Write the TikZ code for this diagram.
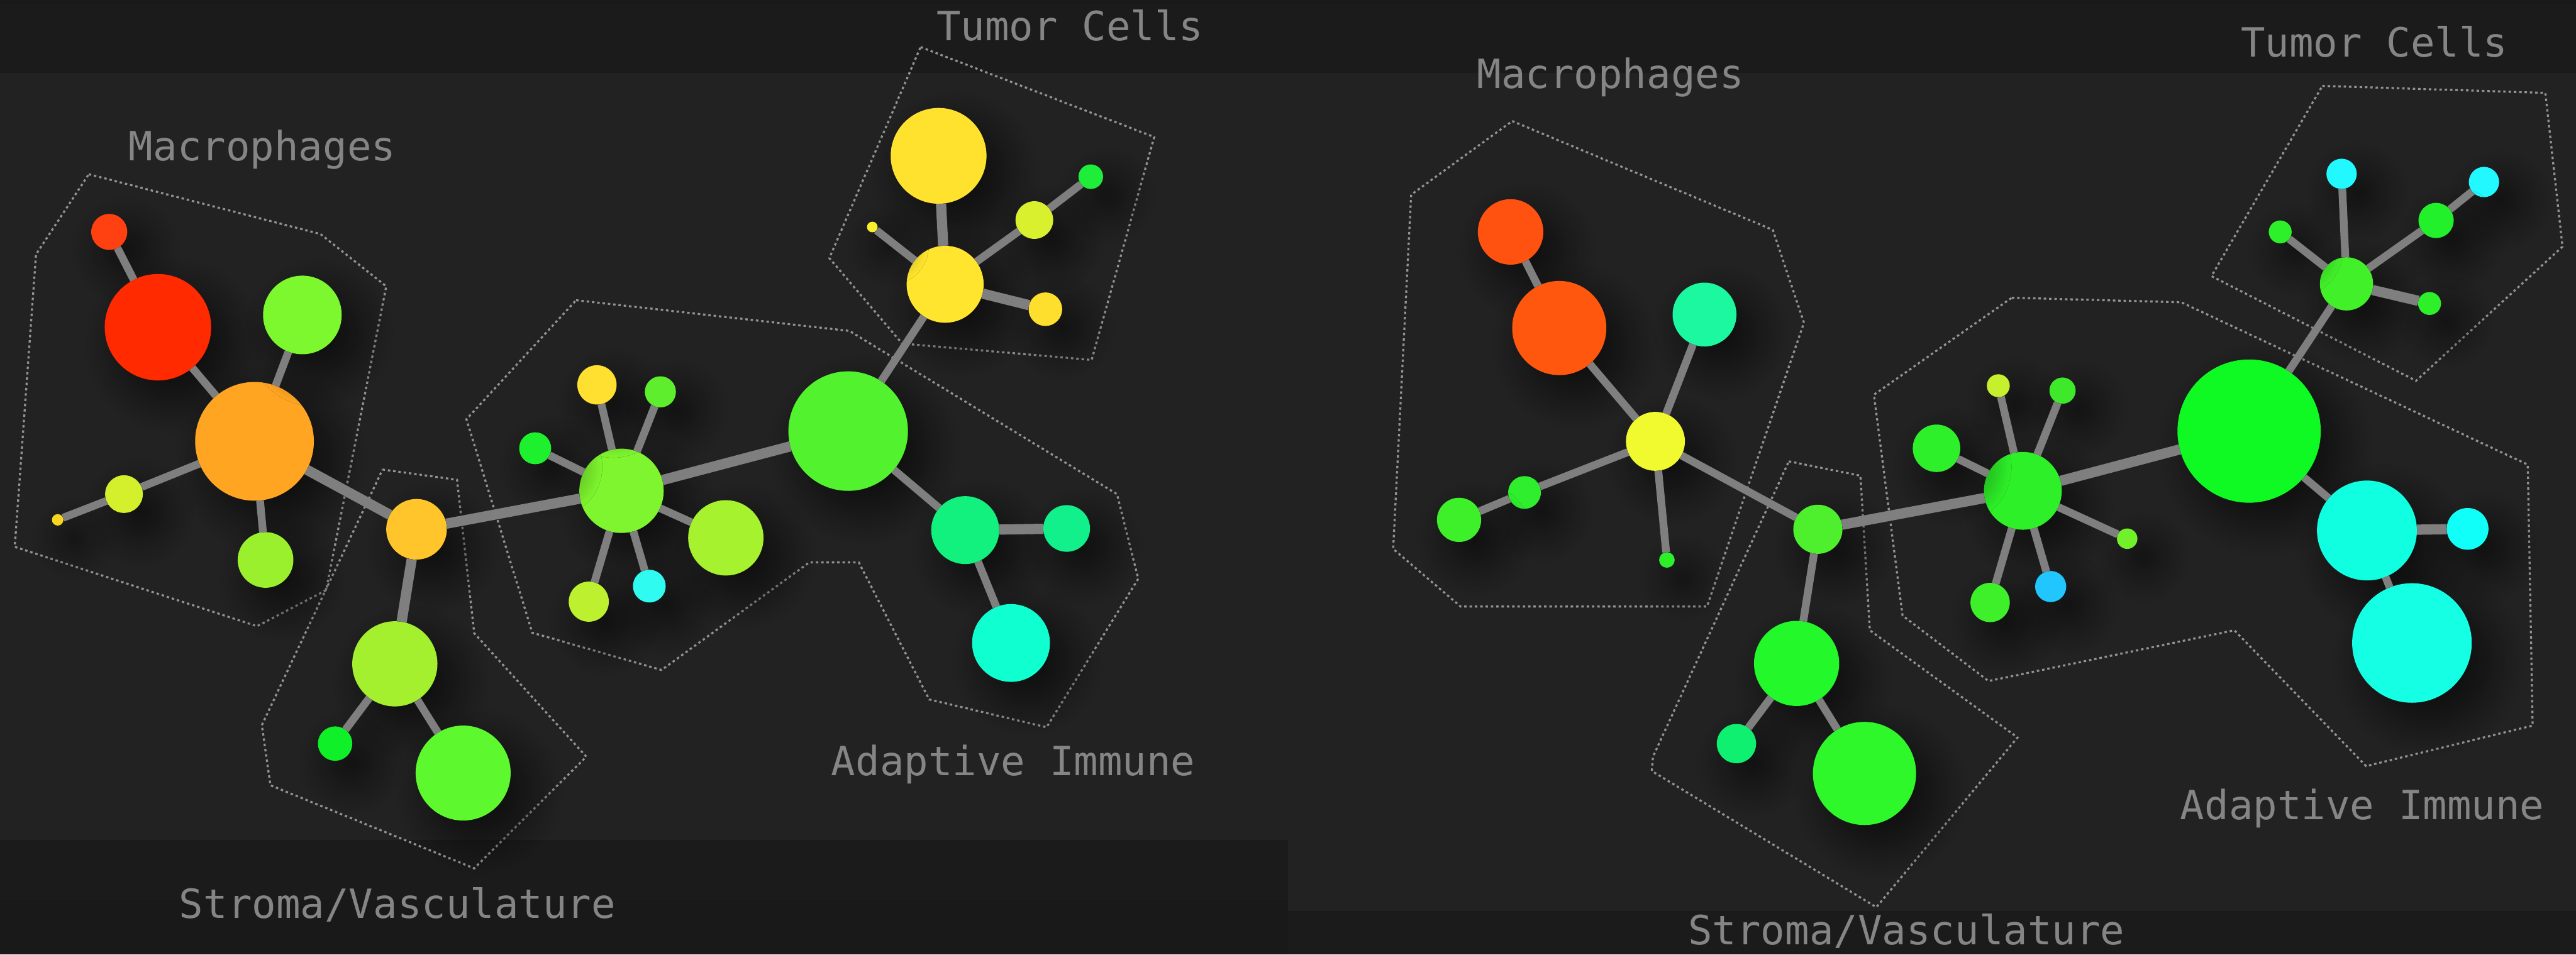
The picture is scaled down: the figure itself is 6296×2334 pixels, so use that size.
\documentclass[tikz,border=0pt]{standalone}
\usepackage{fontspec}
\setmonofont{DejaVu Sans Mono}
\usetikzlibrary{shadows.blur}
\definecolor{bgmid}{HTML}{222222}
\definecolor{bgband}{HTML}{1B1B1B}
\definecolor{bgdeep}{HTML}{191919}
\definecolor{edgegray}{HTML}{7F7F7F}
\definecolor{hullgray}{HTML}{939393}
\definecolor{labelgray}{HTML}{858585}
\tikzset{
  cellnode/.style={circle, draw=none, inner sep=0pt, outer sep=0pt,
    blur shadow={shadow xshift=0.4cm, shadow yshift=-0.45cm, shadow blur radius=0.85cm, shadow blur steps=14, shadow opacity=60}},
  edge/.style={draw=edgegray, line width=0.19cm, line cap=butt},
  thick edge/.style={draw=edgegray, line width=0.25cm, line cap=butt},
  hull/.style={draw=hullgray, line width=0.05cm, dash pattern=on 0.06cm off 0.07cm, line cap=butt, line join=miter},
  grouplabel/.style={anchor=base west, inner sep=0pt, outer sep=0pt, text=labelgray,
    font=\ttfamily\fontsize{28}{30}\selectfont}
}
\newcommand{\cell}[5]{%
  \definecolor{col#1}{HTML}{#5}%
  \node[cellnode, fill=col#1, minimum size=#4*0.02cm] (#1) at (#2,#3) {};}
\begin{document}
\begin{tikzpicture}[x=0.01cm, y=-0.01cm]
\useasboundingbox (0,0) rectangle (6296,2334);
% ---------- backgrounds ----------
\fill[bgmid] (0,0) rectangle (6296,2334);
\fill[bgband] (0,0) rectangle (6296,179);
\fill[bgdeep] (0,0) rectangle (6296,9);
\fill[bgband] (0,2053) rectangle (3148,2334);
\fill[bgdeep] (0,2200) rectangle (3148,2334);
\fill[bgband] (3148,2228) rectangle (6296,2334);
% ---------- group hulls, left ----------
\draw[hull] (217,426) -- (783,572) -- (944,700) -- (797,1443) -- (628,1531) -- (36,1337) -- (88,622) -- cycle;
\draw[hull] (2250,115) -- (2821,335) -- (2668,880) -- (2205,840) -- (2027,631) -- cycle;
\draw[hull] (1408,734) -- (2076,809) -- (2730,1208) -- (2782,1415) -- (2558,1778) -- (2271,1710) -- (2099,1375) -- (1978,1375) -- (1617,1638) -- (1301,1547) -- (1140,1025) -- cycle;
\draw[hull] (935,1148) -- (1117,1173) -- (1159,1548) -- (1433,1850) -- (1159,2123) -- (661,1920) -- (640,1773) -- cycle;
% ---------- group hulls, right ----------
\draw[hull] (3696,296) -- (4333,562) -- (4409,789) -- (4172,1483) -- (3570,1483) -- (3405,1342) -- (3449,476) -- cycle;
\draw[hull] (5676,210) -- (6221,227) -- (6263,603) -- (5905,931) -- (5405,675) -- cycle;
\draw[hull] (4917,728) -- (5331,739) -- (6178,1136) -- (6190,1774) -- (5783,1873) -- (5461,1541) -- (4860,1665) -- (4650,1505) -- (4580,965) -- cycle;
\draw[hull] (4372,1128) -- (4547,1163) -- (4570,1541) -- (4931,1803) -- (4586,2218) -- (4037,1885) -- (4040,1850) -- cycle;
% ---------- labels ----------
\node[grouplabel] (lmacl) at (315,393) {Macrophages};
\node[grouplabel] (ltuml) at (2289,99) {Tumor Cells};
\node[grouplabel] (lstrl) at (438,2245) {Stroma/Vasculature};
\node[grouplabel] (ladal) at (2032,1896) {Adaptive Immune};
\node[grouplabel] (rmacl) at (3610,216) {Macrophages};
\node[grouplabel] (rtuml) at (5477,139) {Tumor Cells};
\node[grouplabel] (rstrl) at (4126,2310) {Stroma/Vasculature};
\node[grouplabel] (radal) at (5329,2003) {Adaptive Immune};
% ---------- left network nodes ----------
\cell{M1}{267}{567}{44}{FF4010}
\cell{M2}{386}{800}{130}{FF2A00}
\cell{M3}{622}{1079}{145}{FFA522}
\cell{M4}{739}{770}{96}{7DF72E}
\cell{M5}{303}{1208}{46}{D4F02C}
\cell{M6}{141}{1271}{14}{F7D520}
\cell{M7}{649}{1369}{68}{9BF02E}
\cell{S1}{1018}{1294}{74}{FFC52A}
\cell{S2}{965}{1623}{104}{A4F02E}
\cell{S3}{819}{1818}{42}{10F028}
\cell{S4}{1132}{1890}{116}{5EF82E}
\cell{C1}{1519}{1200}{103}{7EF52E}
\cell{C2}{1459}{941}{48}{FFE030}
\cell{C3}{1614}{958}{38}{5EEE2E}
\cell{C4}{1308}{1096}{39}{1EF02E}
\cell{C5}{1774}{1315}{92}{A6F22E}
\cell{C6}{1439}{1471}{49}{BDF02E}
\cell{C7}{1587}{1433}{40}{30FBF0}
\cell{A1}{2073}{1054}{146}{52F22E}
\cell{A2}{2359}{1296}{83}{12F07E}
\cell{A3}{2607}{1292}{57}{12F08C}
\cell{A4}{2471}{1572}{95}{10FFD0}
\cell{T1}{2294}{381}{117}{FFE22E}
\cell{T2}{2310}{695}{94}{FFE52E}
\cell{T3}{2666}{432}{30}{1EEE3A}
\cell{T4}{2528}{538}{46}{D8F02E}
\cell{T5}{2132}{555}{13}{F8F02E}
\cell{T6}{2555}{756}{41}{FFDF2E}
% ---------- right network nodes ----------
\cell{RM1}{3692}{567}{80}{FF5210}
\cell{RM2}{3811}{802}{115}{FF570E}
\cell{RM3}{4046}{1079}{72}{F0FA2E}
\cell{RM4}{4166}{769}{78}{1CF8A0}
\cell{RM5}{3726}{1204}{40}{2EEE2E}
\cell{RM6}{3566}{1271}{54}{3EF02A}
\cell{RM7}{4074}{1369}{19}{2EF02A}
\cell{RS1}{4443}{1294}{60}{4EF02E}
\cell{RS2}{4391}{1622}{104}{22F82A}
\cell{RS3}{4244}{1818}{48}{10F070}
\cell{RS4}{4557}{1891}{126}{2EF82A}
\cell{RC1}{4944}{1200}{95}{2EF028}
\cell{RC2}{4884}{943}{28}{C6F02E}
\cell{RC3}{5041}{955}{32}{3EE82A}
\cell{RC4}{4733}{1096}{58}{2EF02A}
\cell{RC5}{5199}{1317}{25}{72F02A}
\cell{RC6}{4864}{1473}{48}{3EF02A}
\cell{RC7}{5012}{1434}{38}{22C6FF}
\cell{RA1}{5497}{1054}{175}{0EFA22}
\cell{RA2}{5785}{1297}{122}{10FFE0}
\cell{RA3}{6031}{1293}{51}{10FFF8}
\cell{RA4}{5895}{1572}{146}{14FFE4}
\cell{RT1}{5735}{694}{65}{42F02A}
\cell{RT2}{5723}{425}{37}{22F8FF}
\cell{RT3}{6071}{445}{37}{22F8FF}
\cell{RT4}{5954}{539}{43}{22F02A}
\cell{RT5}{5573}{567}{28}{2EF02A}
\cell{RT6}{5938}{742}{28}{2EF02A}
% ---------- connectors ----------
\draw[edge] (M1) -- (M2);
\draw[edge] (M2) -- (M3);
\draw[edge] (M4) -- (M3);
\draw[edge] (M3) -- (M5);
\draw[edge] (M5) -- (M6);
\draw[edge] (M3) -- (M7);
\draw[thick edge] (M3) -- (S1);
\draw[thick edge] (S1) -- (S2);
\draw[edge] (S2) -- (S3);
\draw[edge] (S2) -- (S4);
\draw[thick edge] (S1) -- (C1);
\draw[edge] (C1) -- (C2);
\draw[edge] (C1) -- (C3);
\draw[edge] (C1) -- (C4);
\draw[edge] (C1) -- (C5);
\draw[edge] (C1) -- (C6);
\draw[edge] (C1) -- (C7);
\draw[thick edge] (C1) -- (A1);
\draw[thick edge] (T1) -- (T2);
\draw[edge] (T2) -- (T4);
\draw[edge] (T4) -- (T3);
\draw[edge] (T2) -- (T5);
\draw[thick edge] (T2) -- (T6);
\draw[edge] (T2) -- (A1);
\draw[edge] (A1) -- (A2);
\draw[thick edge] (A2) -- (A3);
\draw[edge] (A2) -- (A4);
\draw[edge] (RM1) -- (RM2);
\draw[edge] (RM2) -- (RM3);
\draw[edge] (RM4) -- (RM3);
\draw[edge] (RM3) -- (RM5);
\draw[edge] (RM5) -- (RM6);
\draw[edge] (RM3) -- (RM7);
\draw[edge] (RM3) -- (RS1);
\draw[edge] (RS1) -- (RS2);
\draw[edge] (RS2) -- (RS3);
\draw[edge] (RS2) -- (RS4);
\draw[thick edge] (RS1) -- (RC1);
\draw[edge] (RC1) -- (RC2);
\draw[edge] (RC1) -- (RC3);
\draw[edge] (RC1) -- (RC4);
\draw[edge] (RC1) -- (RC5);
\draw[edge] (RC1) -- (RC6);
\draw[edge] (RC1) -- (RC7);
\draw[thick edge] (RC1) -- (RA1);
\draw[edge] (RT1) -- (RT2);
\draw[edge] (RT1) -- (RT4);
\draw[edge] (RT4) -- (RT3);
\draw[edge] (RT1) -- (RT5);
\draw[thick edge] (RT1) -- (RT6);
\draw[edge] (RT1) -- (RA1);
\draw[edge] (RA1) -- (RA2);
\draw[thick edge] (RA2) -- (RA3);
\draw[edge] (RA2) -- (RA4);
\end{tikzpicture}
\end{document}
